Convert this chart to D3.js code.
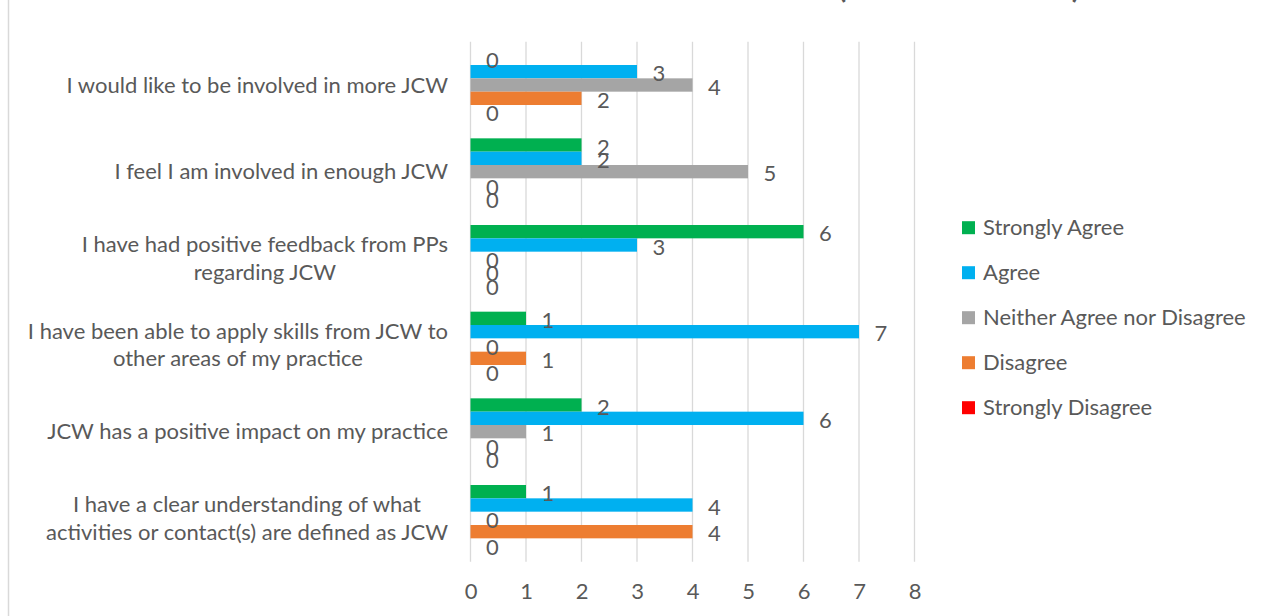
<!DOCTYPE html>
<html>
<head>
<meta charset="utf-8">
<script src="https://cdnjs.cloudflare.com/ajax/libs/d3/7.8.5/d3.min.js"></script>
<style>
  body { margin: 0; background: #fff; }
  text { font-family: Lato, "Open Sans", sans-serif; fill: #595959; }
</style>
</head>
<body>
<div id="chart"></div>
<script>
// categories, top to bottom, already broken into lines like the original
var categories = [
    ["I would like to be involved in more JCW"],
    ["I feel I am involved in enough JCW"],
    ["I have had positive feedback from PPs", "regarding JCW"],
    ["I have been able to apply skills from JCW to", "other areas of my practice"],
    ["JCW has a positive impact on my practice"],
    ["I have a clear understanding of what", "activities or contact(s) are defined as JCW"]
];
var seriesNames = ["Strongly Agree", "Agree", "Neither Agree nor Disagree", "Disagree", "Strongly Disagree"];
var seriesColors = ["#00b050", "#00b0f0", "#a5a5a5", "#ed7d31", "#ff0000"];

// one array per series, same order as categories
var stronglyAgree    = [0, 2, 6, 1, 2, 1];
var agree            = [3, 2, 3, 7, 6, 4];
var neither          = [4, 5, 0, 0, 1, 0];
var disagree         = [2, 0, 0, 1, 0, 4];
var stronglyDisagree = [0, 0, 0, 0, 0, 0];

var xTicks = [0, 1, 2, 3, 4, 5, 6, 7, 8];

var seriesValues = [stronglyAgree, agree, neither, disagree, stronglyDisagree];

var width = 1264, height = 616;
var fontSize = "22px";
var svg = d3.select("#chart").append("svg")
    .attr("width", width)
    .attr("height", height);

// plot area
var plot = { left: 470.5, right: 914.5, top: 41.67, bottom: 561.67 };

var x = d3.scaleLinear()
    .domain([0, 8])
    .range([plot.left, plot.right]);

var catIdx = d3.range(categories.length);
var y = d3.scaleBand()
    .domain(catIdx)
    .range([plot.top, plot.bottom])
    .paddingInner(0.2308)
    .paddingOuter(0.1154);

var ySeries = d3.scaleBand()
    .domain(d3.range(seriesNames.length))
    .range([0, y.bandwidth()]);

// chart border on the left
svg.append("line")
    .attr("x1", 8.5).attr("x2", 8.5)
    .attr("y1", 0).attr("y2", height)
    .attr("stroke", "#d9d9d9")
    .attr("stroke-width", 1.5);

// title, mostly cut off at the top
svg.append("text")
    .attr("x", 836)
    .attr("y", -2)
    .attr("text-anchor", "end")
    .attr("font-size", "30px")
    .attr("font-weight", "bold")
    .text("Staff Attitudes to JCW");
svg.append("text")
    .attr("x", 838)
    .attr("y", -2)
    .attr("font-size", "30px")
    .attr("font-weight", "bold")
    .attr("textLength", 242)
    .attr("lengthAdjust", "spacing")
    .text("(All Officers)");

// gridlines
svg.append("g").selectAll("line")
    .data(xTicks).enter()
    .append("line")
        .attr("x1", function(d) { return x(d); })
        .attr("x2", function(d) { return x(d); })
        .attr("y1", plot.top)
        .attr("y2", plot.bottom)
        .attr("stroke", "#d9d9d9")
        .attr("stroke-width", 1.3);

// x tick labels
var xAxis = svg.append("g")
    .attr("transform", "translate(0 " + (plot.bottom + 30) + ")")
    .call(d3.axisBottom(x).tickValues(xTicks).tickSize(0).tickPadding(0));
xAxis.select(".domain").remove();
xAxis.selectAll("text")
    .attr("font-size", fontSize)
    .attr("dy", "0.35em")
    .attr("y", 0)
    .style("font-family", "Lato, sans-serif")
    .style("fill", "#595959");

// bars and labels
var groups = svg.append("g").selectAll("g")
    .data(catIdx).enter()
    .append("g")
        .attr("transform", function(i) { return "translate(0 " + y(i) + ")"; });

groups.each(function(i) {
    var g = d3.select(this);
    var rows = seriesValues.map(function(vals, s) { return { s: s, v: vals[i] }; });

    g.selectAll("rect")
        .data(rows).enter()
        .append("rect")
            .attr("x", x(0))
            .attr("y", function(d) { return ySeries(d.s); })
            .attr("width", function(d) { return x(d.v) - x(0); })
            .attr("height", ySeries.bandwidth())
            .attr("fill", function(d) { return seriesColors[d.s]; });

    g.selectAll("text.val")
        .data(rows).enter()
        .append("text")
            .attr("class", "val")
            .attr("x", function(d) { return x(d.v) + 22; })
            .attr("y", function(d) { return ySeries(d.s) + ySeries.bandwidth() / 2 + 2; })
            .attr("dy", "0.35em")
            .attr("text-anchor", "middle")
            .attr("font-size", fontSize)
            .text(function(d) { return d.v; });
});

// category labels: block right-aligned at the axis, lines centred inside it
var labelRight = 448, lineGap = 27.5;
catIdx.forEach(function(i) {
    var lines = categories[i];
    var cy = y(i) + y.bandwidth() / 2;
    var g = svg.append("g");
    var texts = lines.map(function(line, k) {
        return g.append("text")
            .attr("y", cy + (k - (lines.length - 1) / 2) * lineGap)
            .attr("dy", "0.35em")
            .attr("font-size", fontSize)
            .attr("text-anchor", "middle")
            .text(line);
    });
    var w = d3.max(texts, function(t) { return t.node().getComputedTextLength(); });
    texts.forEach(function(t) { t.attr("x", labelRight - w / 2); });
});

// legend
var legend = svg.append("g").selectAll("g")
    .data(seriesNames).enter()
    .append("g")
        .attr("transform", function(d, i) { return "translate(962 " + (227.7 + i * 45) + ")"; });
legend.append("rect")
    .attr("x", 0).attr("y", -6.5)
    .attr("width", 13).attr("height", 13)
    .attr("fill", function(d, i) { return seriesColors[i]; });
legend.append("text")
    .attr("x", 21)
    .attr("dy", "0.35em")
    .attr("font-size", fontSize)
    .text(function(d) { return d; });
</script>
</body>
</html>
